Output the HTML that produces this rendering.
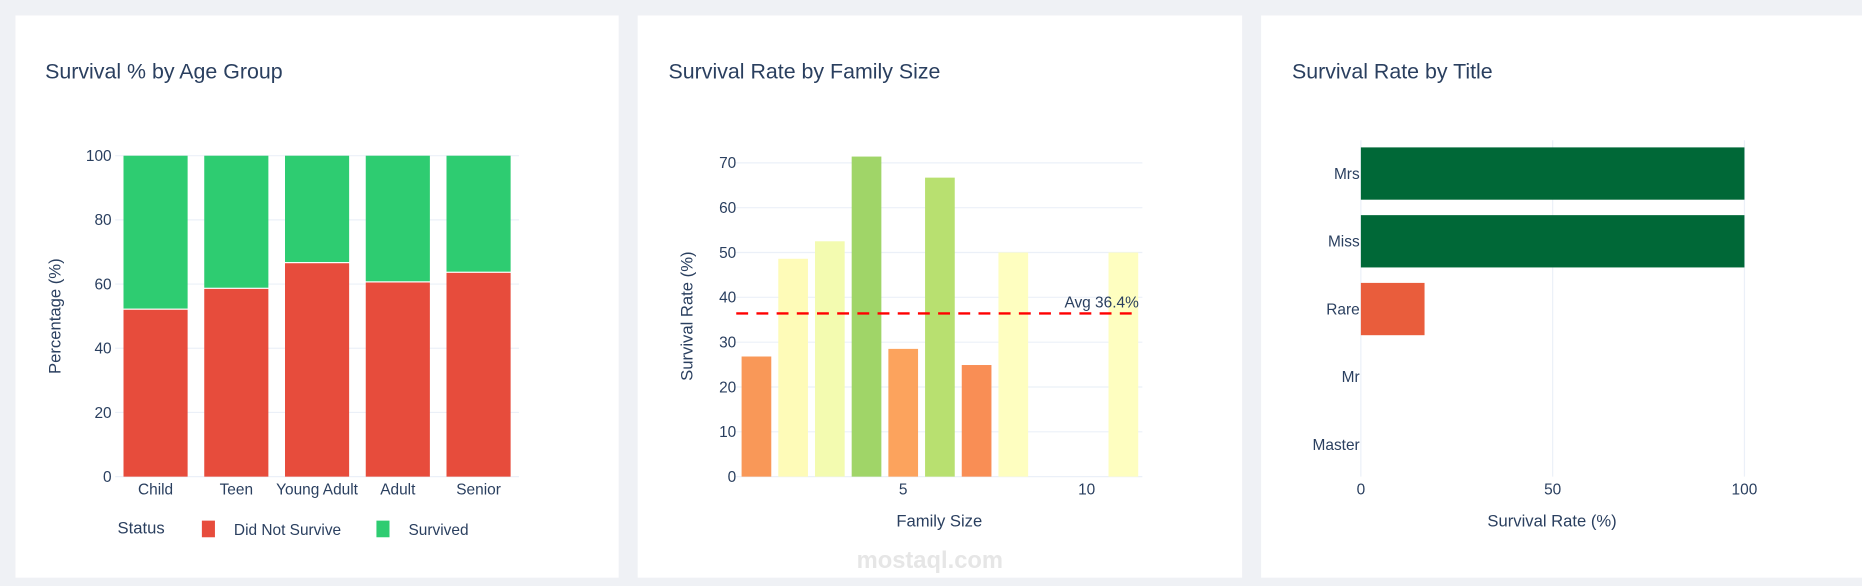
<!DOCTYPE html>
<html><head><meta charset="utf-8"><style>
html,body{margin:0;padding:0;background:#eff1f5;width:1862px;height:586px;overflow:hidden}
svg{display:block;font-family:"Liberation Sans",sans-serif}
</style></head><body>
<svg id="c" width="1862" height="586" viewBox="0 0 1568 493" preserveAspectRatio="none" xmlns="http://www.w3.org/2000/svg">
<rect x="0" y="0" width="1568" height="493" fill="#eff1f5"/>
<rect x="13" y="13" width="508" height="473" fill="#fff"/>
<rect x="537" y="13" width="509" height="473" fill="#fff"/>
<rect x="1062" y="13" width="510" height="473" fill="#fff"/>
<text x="38" y="66" font-size="18" fill="#2a3f5f">Survival % by Age Group</text>
<text x="563" y="66" font-size="18" fill="#2a3f5f">Survival Rate by Family Size</text>
<text x="1088" y="66" font-size="18" fill="#2a3f5f">Survival Rate by Title</text>
<g id="g1"></g><g id="g2"></g><g id="g3"></g>
<text x="783" y="478" font-size="20" font-weight="bold" fill="#e6e6e6" text-anchor="middle">mostaql.com</text>
</svg>
<script>
const ageCats=["Child","Teen","Young Adult","Adult","Senior"];
const ageDied=[52,58.5,66.5,60.5,63.5];
const ageTicks=[0,20,40,60,80,100];
const famSizes=[1,2,3,4,5,6,7,8,11];
const famRates=[26.8,48.6,52.5,71.4,28.5,66.7,24.9,50,50];
const famColors=["#f99858","#fefbb8","#f3fbb0","#a0d568","#fca35d","#b8e070","#f98e55","#fefec0","#fefec0"];
const famTicks=[0,10,20,30,40,50,60,70];
const famXTicks=[5,10];
const famAvg=36.4;
const titleCats=["Mrs","Miss","Rare","Mr","Master"];
const titleRates=[100,100,16.6,0,0];
const titleColors=["#006837","#006837","#e95d3c","#fee08b","#fee08b"];
const titleTicks=[0,50,100];

const NS="http://www.w3.org/2000/svg";
function mk(p,tag,a,txt){const e=document.createElementNS(NS,tag);for(const k in a)e.setAttribute(k,a[k]);if(txt!==undefined)e.textContent=txt;p.appendChild(e);return e;}
const TC="#2a3f5f",GC="#ebf0f8";

// Chart 1
const g1=document.getElementById('g1');
const y1=v=>401-v/100*270;
const x1=i=>104+i*68;
ageTicks.forEach(t=>{
 const l=mk(g1,'line',{x1:97,x2:437,y1:y1(t),y2:y1(t),stroke:GC});
 
 const tx=mk(g1,'text',{x:94,y:y1(t)+4.5,'font-size':13,fill:TC,'text-anchor':'end'},t);
 
});
ageCats.forEach((c,i)=>{
 const r=mk(g1,'rect',{x:x1(i),y:y1(ageDied[i]),width:54,height:y1(0)-y1(ageDied[i]),fill:'#e74c3c'});
 
 const s=mk(g1,'rect',{x:x1(i),y:y1(100),width:54,height:y1(ageDied[i])-y1(100)-1,fill:'#2ecc71'});
 
 const t=mk(g1,'text',{x:x1(i)+27,y:416,'font-size':13,fill:TC,'text-anchor':'middle'},c);
 
});
let yt=mk(g1,'text',{x:0,y:0,'font-size':14,fill:TC,'text-anchor':'middle',transform:'translate(51,266) rotate(-90)'},'Percentage (%)');

let lg=mk(g1,'text',{x:99,y:449,'font-size':14,fill:TC},'Status');

let le=mk(g1,'rect',{x:170,y:438,width:11,height:14,fill:'#e74c3c'});

let lt=mk(g1,'text',{x:197,y:450,'font-size':13,fill:TC},'Did Not Survive');

le=mk(g1,'rect',{x:317,y:438,width:11,height:14,fill:'#2ecc71'});

lt=mk(g1,'text',{x:344,y:450,'font-size':13,fill:TC},'Survived');


// Chart 2
const g2=document.getElementById('g2');
const y2=v=>401-v/70*264;
const x2=v=>637+(v-1)*30.9;
famTicks.forEach(t=>{
 const l=mk(g2,'line',{x1:620,x2:962,y1:y2(t),y2:y2(t),stroke:GC});
 
 const tx=mk(g2,'text',{x:620,y:y2(t)+4.5,'font-size':13,fill:TC,'text-anchor':'end'},t);
 
});
famXTicks.forEach(t=>{
 const tx=mk(g2,'text',{x:x2(t),y:416,'font-size':13,fill:TC,'text-anchor':'middle'},t);
 
});
famSizes.forEach((s,i)=>{
 const r=mk(g2,'rect',{x:x2(s)-12.5,y:y2(famRates[i]),width:25,height:y2(0)-y2(famRates[i]),fill:famColors[i]});
 
});
let av=mk(g2,'line',{x1:620,x2:958,y1:y2(famAvg),y2:y2(famAvg),stroke:'#ff0000','stroke-width':2,'stroke-dasharray':'10,7'});

let at=mk(g2,'text',{x:959,y:y2(famAvg)-5,'font-size':13,fill:TC,'text-anchor':'end'},'Avg '+famAvg+'%');

yt=mk(g2,'text',{x:0,y:0,'font-size':14,fill:TC,'text-anchor':'middle',transform:'translate(583,266) rotate(-90)'},'Survival Rate (%)');

let xt=mk(g2,'text',{x:791,y:443,'font-size':14,fill:TC,'text-anchor':'middle'},'Family Size');


// Chart 3
const g3=document.getElementById('g3');
const x3=v=>1146+v/100*323;
const y3=i=>146+i*57;
titleTicks.forEach(t=>{
 const l=mk(g3,'line',{x1:x3(t),x2:x3(t),y1:118,y2:401,stroke:GC});
 
 const tx=mk(g3,'text',{x:x3(t),y:416,'font-size':13,fill:TC,'text-anchor':'middle'},t);
 
});
titleCats.forEach((c,i)=>{
 const r=mk(g3,'rect',{x:x3(0),y:y3(i)-22,width:x3(titleRates[i])-x3(0),height:44,fill:titleColors[i]});
 
 const t=mk(g3,'text',{x:1145,y:y3(i)+4.5,'font-size':13,fill:TC,'text-anchor':'end'},c);
 
});
xt=mk(g3,'text',{x:1307,y:443,'font-size':14,fill:TC,'text-anchor':'middle'},'Survival Rate (%)');

</script>
</body></html>
